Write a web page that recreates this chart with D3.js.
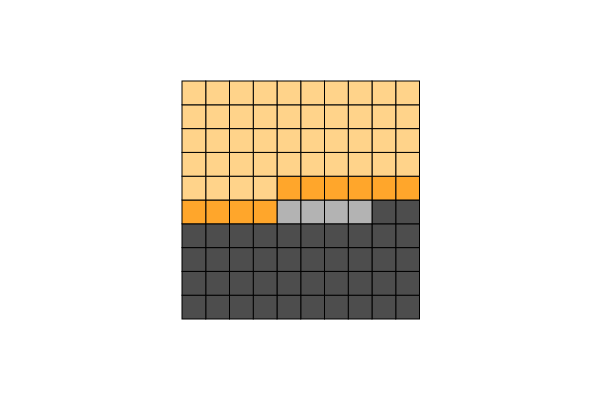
<!DOCTYPE html>
<html><head><meta charset="utf-8">
<script src="https://cdn.jsdelivr.net/npm/d3@7"></script>
<style>body{margin:0;background:#fff}</style>
</head><body>
<svg id="c" width="601" height="401"></svg>
<script>
const categories = ["Dark", "Gray", "Orange", "Light"];
const values = [42, 4, 10, 44];
const colors = ["#4d4d4d", "#b3b3b3", "#ffa62b", "#ffd38a"];
const rows = d3.range(10), cols = d3.range(10);

const cells = [];
categories.forEach((c, k) => { for (let j = 0; j < values[k]; j++) cells.push(k); });

const x = d3.scaleBand().domain(cols).range([182, 419.5]);
const y = d3.scaleBand().domain(rows).range([81, 319]);
const color = d3.scaleOrdinal().domain(categories).range(colors);

const svg = d3.select("#c");
svg.selectAll("rect").data(cells).join("rect")
  .attr("x", (d, i) => x(9 - i % 10))
  .attr("y", (d, i) => y(9 - Math.floor(i / 10)))
  .attr("width", x.bandwidth())
  .attr("height", y.bandwidth())
  .attr("fill", d => color(categories[d]))
  .attr("stroke", "#000")
  .attr("stroke-width", 1);
</script>
</body></html>
